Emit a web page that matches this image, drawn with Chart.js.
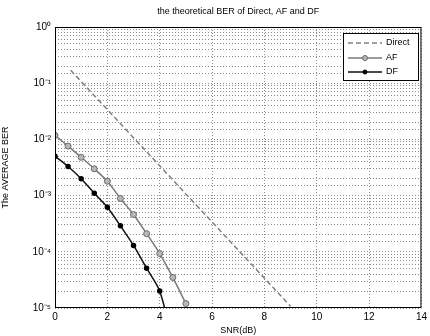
<!DOCTYPE html>
<html>
<head>
<meta charset="utf-8">
<script src="https://cdn.jsdelivr.net/npm/chart.js@4"></script>
<style>
  html, body { margin: 0; padding: 0; background: #fff; }
  #wrap { width: 430px; height: 336px; }
</style>
</head>
<body>
<div id="wrap"><canvas id="berChart" width="430" height="336"></canvas></div>
<script>
// values (BER, log scale)
const directSnr = [0.6, 1, 2, 3, 4, 5, 6, 7, 8, 9];
const directBer = [0.17, 0.107, 0.034, 0.0107, 0.0034, 0.00107, 0.00034, 0.000107, 0.000034, 0.0000107];

const afSnr = [0, 0.5, 1, 1.5, 2, 2.5, 3, 3.5, 4, 4.5, 5];
const afBer = [0.0118, 0.0076, 0.0048, 0.003, 0.0018, 0.00089, 0.00046, 0.00021, 0.000093, 0.000035, 0.000012];

const dfSnr = [0, 0.5, 1, 1.5, 2, 2.5, 3, 3.5, 4, 4.5];
const dfBer = [0.005, 0.0033, 0.002, 0.0011, 0.00062, 0.00029, 0.00013, 0.000051, 0.00002, 0.0000025];

const xTicks = [0, 2, 4, 6, 8, 10, 12, 14];
const decadeLabels = { '1': '10\u2070', '0.1': '10\u207B\u00B9', '0.01': '10\u207B\u00B2',
  '0.001': '10\u207B\u00B3', '0.0001': '10\u207B\u2074', '0.00001': '10\u207B\u2075' };

const titleText = 'the theoretical BER of Direct, AF and DF';
const legendNames = ['Direct', 'AF', 'DF'];

const toPoints = (xs, ys) => xs.map((x, i) => ({ x: x, y: ys[i] }));

const font = 'Liberation Sans, Arial, sans-serif';

// matlab style frame, title and legend box
const matlabBits = {
  id: 'matlabBits',
  afterDraw(chart) {
    const { ctx, chartArea: a } = chart;
    ctx.save();
    ctx.strokeStyle = '#000';
    ctx.lineWidth = 1;
    ctx.strokeRect(a.left + 0.5, a.top + 0.5, a.right - a.left - 1, a.bottom - a.top - 1);

    ctx.fillStyle = '#000';
    ctx.font = '9px ' + font;
    ctx.textAlign = 'center';
    ctx.textBaseline = 'middle';
    ctx.fillText(titleText, (a.left + a.right) / 2, 12);

    // legend
    const bx = 343, by = 33, bw = 75, bh = 47;
    ctx.fillStyle = '#fff';
    ctx.fillRect(bx, by, bw, bh);
    ctx.strokeStyle = '#000';
    ctx.strokeRect(bx + 0.5, by + 0.5, bw, bh);
    const rows = [43, 58, 72];
    chart.data.datasets.forEach((ds, i) => {
      const y = rows[i];
      ctx.strokeStyle = ds.borderColor;
      ctx.lineWidth = ds.borderWidth;
      ctx.setLineDash(ds.borderDash || []);
      ctx.beginPath();
      ctx.moveTo(348, y);
      ctx.lineTo(382, y);
      ctx.stroke();
      ctx.setLineDash([]);
      if (ds.legendMarker) {
        ctx.beginPath();
        ctx.arc(365, y, ds.legendMarker, 0, Math.PI * 2);
        ctx.fillStyle = ds.pointBackgroundColor;
        ctx.fill();
        ctx.strokeStyle = ds.pointBorderColor;
        ctx.lineWidth = 1;
        ctx.stroke();
      }
      ctx.fillStyle = '#000';
      ctx.font = '9px ' + font;
      ctx.textAlign = 'left';
      ctx.fillText(legendNames[i], 386, y);
    });
    ctx.restore();
  }
};

new Chart(document.getElementById('berChart'), {
  type: 'line',
  data: {
    datasets: [
      {
        label: legendNames[0],
        data: toPoints(directSnr, directBer),
        borderColor: '#808080',
        borderWidth: 1.5,
        borderDash: [5, 3],
        pointRadius: 0,
        fill: false
      },
      {
        label: legendNames[1],
        data: toPoints(afSnr, afBer),
        borderColor: '#7a7a7a',
        borderWidth: 1.5,
        pointRadius: 3,
        pointBackgroundColor: '#b8b8b8',
        pointBorderColor: '#6a6a6a',
        pointBorderWidth: 1,
        legendMarker: 2.5,
        tension: 0.3,
        fill: false
      },
      {
        label: legendNames[2],
        data: toPoints(dfSnr, dfBer),
        borderColor: '#111',
        borderWidth: 1.5,
        pointRadius: dfSnr.map((x, i) => i === dfSnr.length - 1 ? 0 : 2),
        pointBackgroundColor: '#000',
        pointBorderColor: '#000',
        legendMarker: 2,
        tension: 0.3,
        fill: false
      }
    ]
  },
  options: {
    responsive: false,
    animation: false,
    layout: { padding: { top: 27, right: 5, left: 0, bottom: 0 } },
    plugins: {
      legend: { display: false },
      title: { display: false },
      tooltip: { enabled: false }
    },
    scales: {
      x: {
        type: 'linear',
        min: 0,
        max: 14,
        afterBuildTicks: s => { s.ticks = xTicks.map(v => ({ value: v })); },
        afterFit: s => { s.height = 28; },
        grid: { color: '#8c8c8c', lineWidth: 1, drawTicks: false },
        border: { display: false, dash: [1, 2] },
        ticks: { color: '#000', font: { size: 10, family: font }, padding: 3, maxRotation: 0 },
        title: { display: true, text: 'SNR(dB)', color: '#000', font: { size: 9, family: font }, padding: { top: -2, bottom: 0 } }
      },
      y: {
        type: 'logarithmic',
        min: 0.00001,
        max: 1,
        afterFit: s => { s.width = 55; },
        grid: { color: '#8c8c8c', lineWidth: 1, drawTicks: false },
        border: { display: false, dash: [1, 2] },
        ticks: {
          color: '#000',
          font: { size: 10, family: font },
          padding: 4,
          autoSkip: false,
          callback: v => decadeLabels[String(v)] || ''
        },
        title: { display: true, text: 'The AVERAGE BER', color: '#000', font: { size: 9, family: font }, padding: { top: 0, bottom: 2 } }
      }
    }
  },
  plugins: [matlabBits]
});
</script>
</body>
</html>
